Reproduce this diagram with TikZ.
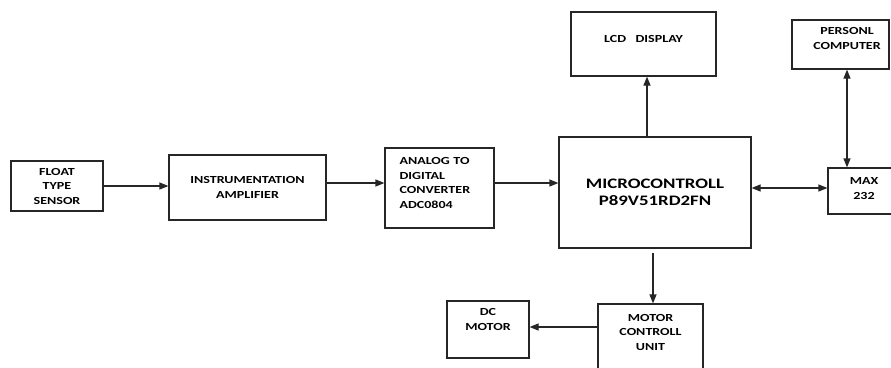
\documentclass[tikz,border=0pt]{standalone}
\usepackage{fontspec}
\setmainfont{Carlito}[FakeStretch=1.3]
\usetikzlibrary{arrows.meta}
\begin{document}
\begin{tikzpicture}[x=1pt,y=-1pt,
  box/.style={draw=black!85,line width=1.2pt,inner sep=0pt,font=\bfseries\fontsize{10.8}{14.5}\selectfont,align=center},
  txt/.style={inner sep=0pt,font=\bfseries\fontsize{10.8}{14.5}\selectfont,align=center},
  conn/.style={line width=1.2pt,draw=black!85},
  arr/.style={conn,-{Triangle[length=9pt,width=7pt]}},
  darr/.style={conn,{Triangle[length=9pt,width=7pt]}-{Triangle[length=9pt,width=7pt]}}]
\useasboundingbox (0,0) rectangle (891,367);
\clip (0,0) rectangle (891,367);
\node[box,minimum width=92pt,minimum height=50pt] (float) at (57,186) {FLOAT\\TYPE\\SENSOR};
\node[box,minimum width=157pt,minimum height=65pt] (amp) at (247.5,187.5) {INSTRUMENTATION\\AMPLIFIER};
\node[box,minimum width=109pt,minimum height=80pt] (adc) at (439.5,188) {};
\node[txt,align=left,text width=83pt,anchor=center] (adctext) at (441,183) {ANALOG TO\\DIGITAL\\CONVERTER\\ADC0804};
\node[box,minimum width=192pt,minimum height=111pt,font=\bfseries\fontsize{14.5}{17}\selectfont] (micro) at (655,192.5) {MICROCONTROLL\\P89V51RD2FN};
\node[box,minimum width=145pt,minimum height=64pt] (lcd) at (643.5,44) {};
\node[txt] (lcdtext) at (643.5,39) {LCD\ \ \ DISPLAY};
\node[box,minimum width=97pt,minimum height=49pt] (pc) at (840.5,44.5) {};
\node[txt] (pctext) at (847,38.5) {PERSONL\\COMPUTER};
\node[box,minimum width=72pt,minimum height=46pt] (max) at (864,191) {};
\node[txt] (maxtext) at (864,188.5) {MAX\\232};
\node[box,minimum width=105pt,minimum height=80pt] (motor) at (650.5,344) {};
\node[txt] (motortext) at (650.5,332) {MOTOR\\CONTROLL\\UNIT};
\node[box,minimum width=82pt,minimum height=57pt] (dc) at (488,329.5) {};
\node[txt] (dctext) at (488,319.5) {DC\\MOTOR};
\draw[arr] (float.east) -- (amp.west |- float.east);
\draw[arr] (amp.east |- 0,183) -- (adc.west |- 0,183);
\draw[arr] (adc.east |- 0,183) -- (micro.west |- 0,183);
\draw[arr] (micro.north -| 647,0) -- (lcd.south -| 647,0);
\draw[darr] (micro.east |- 0,188) -- (max.west |- 0,188);
\draw[darr] (max.north -| 847,0) -- (pc.south -| 847,0);
\draw[arr] ([yshift=-4pt]micro.south -| 653,0) -- (motor.north -| 653,0);
\draw[arr] (motor.west |- 0,327) -- (dc.east |- 0,327);
\end{tikzpicture}
\end{document}
